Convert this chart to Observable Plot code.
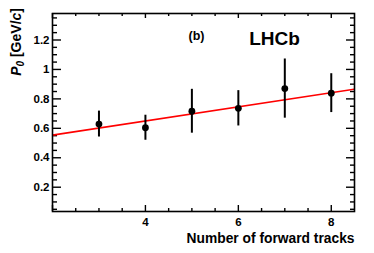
<!DOCTYPE html>
<html>
<head>
<meta charset="utf-8">
<script src="https://cdn.jsdelivr.net/npm/d3@7"></script>
<script src="https://cdn.jsdelivr.net/npm/@observablehq/plot@0.6"></script>
<style>
  html, body { margin: 0; padding: 0; background: #fff; }
  #chart svg { display: block; }
</style>
</head>
<body>
<div id="chart"></div>
<script>
// ---- data ----
const tracks = [3, 4, 5, 6, 7, 8];
const p0 = [0.629, 0.604, 0.716, 0.736, 0.870, 0.839];
const p0Err = [0.088, 0.085, 0.149, 0.120, 0.201, 0.132];
const fitX = [2, 8.5];
const fitY = [0.554, 0.866];
const xTicks = [4, 6, 8];
const xTickLabels = ["4", "6", "8"];
const yTicks = [0.2, 0.4, 0.6, 0.8, 1, 1.2];
const yTickLabels = ["0.2", "0.4", "0.6", "0.8", "1", "1.2"];
const xTitle = "Number of forward tracks";
const panelTag = "(b)";
const expTag = "LHCb";

const xDomain = [2, 8.5];
const yDomain = [0.035, 1.38];

const points = tracks.map((t, i) => ({x: t, y: p0[i], lo: p0[i] - p0Err[i], hi: p0[i] + p0Err[i]}));
const fit = fitX.map((x, i) => ({x, y: fitY[i]}));

const W = 374, H = 253;
const mT = 13, mB = 42, mL = 52, mR = 20;
const iH = H - mT - mB, iW = W - mL - mR;

const xMajor = [2, 4, 6, 8];
const xMinor = d3.range(2.5, 8.5, 0.5).filter(v => !xMajor.includes(v));
const yMajor = yTicks;
const yMinor = d3.range(1, 28).map(i => +(i * 0.05).toFixed(2)).filter(v => !yMajor.some(m => Math.abs(m - v) < 1e-6));

const font = "'Liberation Sans', Arial, Helvetica, sans-serif";
const tickStyle = {stroke: "black", strokeWidth: 1.4};

const chart = Plot.plot({
  width: W, height: H,
  marginTop: mT, marginBottom: mB, marginLeft: mL, marginRight: mR,
  style: {fontFamily: font, background: "white", color: "black"},
  x: {domain: xDomain, axis: null},
  y: {domain: yDomain, axis: null},
  marks: [
    // tick labels
    Plot.axisX({ticks: xTicks, tickFormat: d => xTickLabels[xTicks.indexOf(d)], tickSize: 0, tickPadding: 6, fontSize: 11.5, fontWeight: "bold", label: null}),
    Plot.axisY({ticks: yTicks, tickFormat: d => yTickLabels[yTicks.indexOf(d)], tickSize: 0, tickPadding: 3, fontSize: 11.5, fontWeight: "bold", label: null}),
    // inward ticks, bottom & top
    Plot.tickX(xMajor, {x: d => d, insetTop: iH - 6, ...tickStyle}),
    Plot.tickX(xMinor, {x: d => d, insetTop: iH - 3, ...tickStyle}),
    Plot.tickX(xMajor, {x: d => d, insetBottom: iH - 5, ...tickStyle}),
    Plot.tickX(xMinor, {x: d => d, insetBottom: iH - 3, ...tickStyle}),
    // inward ticks, left & right
    Plot.tickY(yMajor, {y: d => d, insetRight: iW - 9, ...tickStyle}),
    Plot.tickY(yMinor, {y: d => d, insetRight: iW - 5, ...tickStyle}),
    Plot.tickY(yMajor, {y: d => d, insetLeft: iW - 8, ...tickStyle}),
    Plot.tickY(yMinor, {y: d => d, insetLeft: iW - 4, ...tickStyle}),
    // fit line
    Plot.line(fit, {x: "x", y: "y", stroke: "#ff0000", strokeWidth: 1.6, clip: true}),
    // error bars and points
    Plot.ruleX(points, {x: "x", y1: "lo", y2: "hi", stroke: "black", strokeWidth: 2}),
    Plot.dot(points, {x: "x", y: "y", r: 3.4, fill: "black", stroke: null}),
    // frame
    Plot.frame({stroke: "black", strokeWidth: 1.6}),
    // annotations
    Plot.text([panelTag], {frameAnchor: "top-left", text: d => d, dx: 144, dy: 22.5, textAnchor: "middle", lineAnchor: "middle", fontSize: 12.5, fontWeight: "bold", fill: "black"}),
    Plot.text([expTag], {frameAnchor: "top-left", text: d => d, dx: 222, dy: 25, textAnchor: "middle", lineAnchor: "middle", fontSize: 19, fontWeight: "bold", fill: "black"}),
    Plot.text([xTitle], {frameAnchor: "bottom-right", text: d => d, dy: 27, textAnchor: "end", lineAnchor: "middle", fontSize: 13.8, fontWeight: "bold", fill: "black"})
  ]
});

// y-axis title with italic P, subscript 0 and italic c
const svg = d3.select(chart);
const yt = svg.append("text")
  .attr("transform", "translate(21,8) rotate(-90)")
  .attr("text-anchor", "end")
  .attr("font-family", font)
  .attr("font-size", 14)
  .attr("font-weight", "bold")
  .attr("fill", "black");
yt.append("tspan").attr("font-style", "italic").text("P");
yt.append("tspan").attr("font-style", "italic").attr("font-size", 10).attr("dy", 3).text("0");
yt.append("tspan").attr("dy", -3).text(" [GeV/");
yt.append("tspan").attr("font-style", "italic").text("c");
yt.append("tspan").text("]");

document.getElementById("chart").appendChild(chart);
</script>
</body>
</html>
